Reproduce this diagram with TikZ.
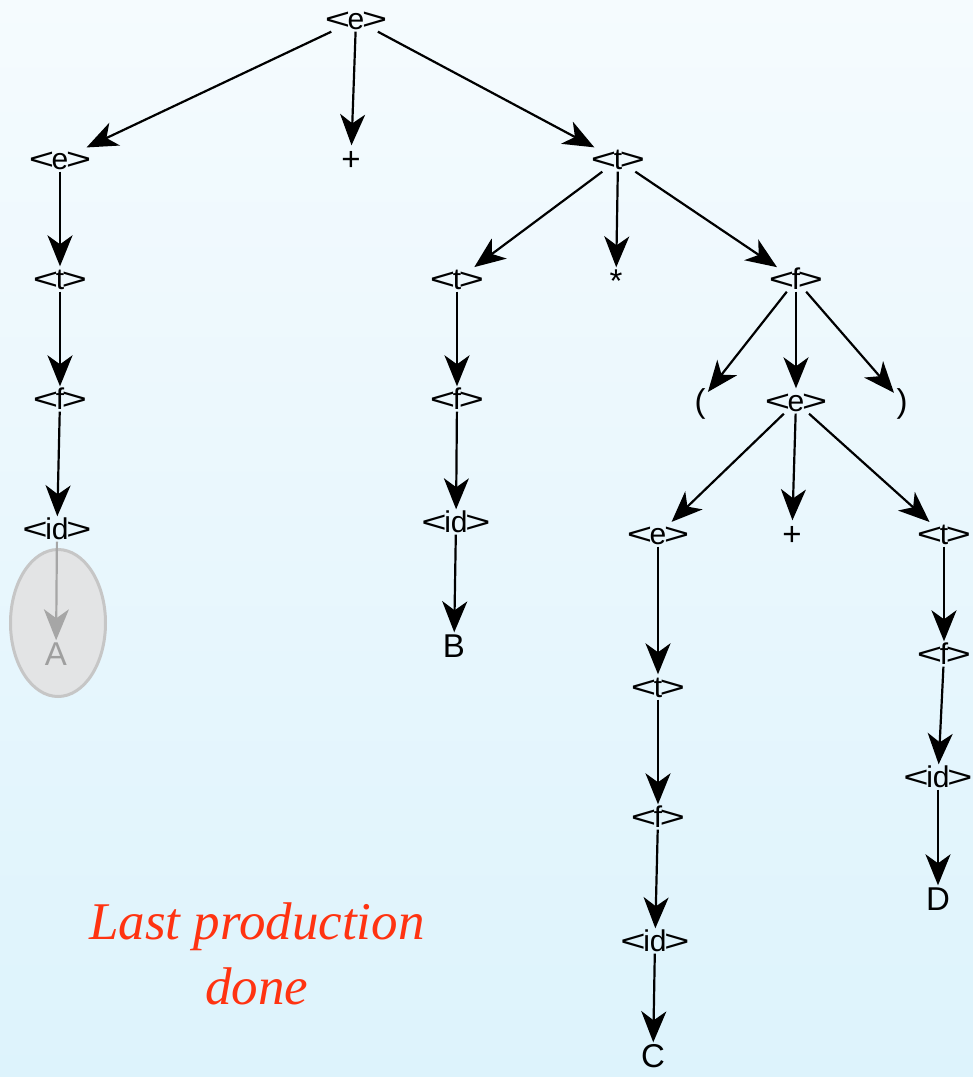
\documentclass[tikz,border=0pt]{standalone}
\usepackage{fontspec}
\usepackage{graphicx}
\setmainfont{Liberation Sans}
\newfontfamily\serifit{Liberation Serif}
\usetikzlibrary{arrows.meta,shapes.geometric}
\definecolor{bgtop}{RGB}{245,251,254}
\definecolor{bgbot}{RGB}{221,243,252}
\definecolor{redtxt}{RGB}{255,51,17}
\newcommand{\ntm}[1]{\scalebox{1.45}[1]{<}\kern-2.5pt#1\kern-2.5pt\scalebox{1.45}[1]{>}}
\tikzset{
  nt/.style={inner sep=1pt, font=\fontsize{30}{32}\selectfont, text height=20pt, text depth=1pt},
  tm/.style={inner sep=1pt, font=\fontsize{33}{35}\selectfont, text height=22pt, text depth=1pt},
  edge/.style={line width=2.2pt, -{Stealth[length=31pt,width=25pt,inset=9pt]}, shorten >=2pt},
  gedge/.style={edge, draw=gray!70},
}
\begin{document}
\begin{tikzpicture}[x=1pt,y=-1pt]
\useasboundingbox (0,0) rectangle (973,1077);
\shade[top color=bgtop, bottom color=bgbot] (0,0) rectangle (973,1077);
% ellipse
\node[ellipse, minimum width=95pt, minimum height=147pt, fill=gray!22, draw=gray!45, line width=3pt, fill opacity=0.9] (ell) at (58,623) {};
% nodes
\node[nt] (r) at (356,20) {\ntm{e}};
\node[nt] (e1) at (60,160) {\ntm{e}};
\node[tm] (p1) at (351,160) {+};
\node[nt] (t1) at (618,160) {\ntm{t}};
\node[nt] (t2) at (60,280) {\ntm{t}};
\node[nt] (f2) at (60,400) {\ntm{f}};
\node[nt] (id2) at (57,530) {\ntm{id}};
\node[tm, text=gray!75] (A) at (56,655) {A};
\node[nt] (t3) at (457,280) {\ntm{t}};
\node[tm] (st) at (616,282) {*};
\node[nt] (f3) at (796,280) {\ntm{f}};
\node[nt] (f4) at (457,400) {\ntm{f}};
\node[nt] (id4) at (456,523) {\ntm{id}};
\node[tm] (B) at (454,647) {B};
\node[tm] (lp) at (700,402) {(};
\node[nt] (e5) at (796,402) {\ntm{e}};
\node[tm] (rp) at (902,402) {)};
\node[nt] (e6) at (658,535) {\ntm{e}};
\node[tm] (p6) at (792,535) {+};
\node[nt] (t6) at (944,535) {\ntm{t}};
\node[nt] (t7) at (658,688) {\ntm{t}};
\node[nt] (f7) at (658,818) {\ntm{f}};
\node[nt] (id7) at (655,942) {\ntm{id}};
\node[tm] (C) at (653,1057) {C};
\node[nt] (f8) at (944,655) {\ntm{f}};
\node[nt] (id8) at (938,778) {\ntm{id}};
\node[tm] (D) at (938,900) {D};
% edges
\draw[edge] (r) -- (e1);
\draw[edge] (r) -- (p1);
\draw[edge] (r) -- (t1);
\draw[edge] (e1) -- (t2);
\draw[edge] (t2) -- (f2);
\draw[edge] (f2) -- (id2);
\draw[gedge] (id2) -- (A);
\draw[edge] (t1) -- (t3);
\draw[edge] (t1) -- (st);
\draw[edge] (t1) -- (f3);
\draw[edge] (t3) -- (f4);
\draw[edge] (f4) -- (id4);
\draw[edge] (id4) -- (B);
\draw[edge] (f3) -- (lp);
\draw[edge] (f3) -- (e5);
\draw[edge] (f3) -- (rp);
\draw[edge] (e5) -- (e6);
\draw[edge] (e5) -- (p6);
\draw[edge] (e5) -- (t6);
\draw[edge] (e6) -- (t7);
\draw[edge] (t7) -- (f7);
\draw[edge] (f7) -- (id7);
\draw[edge] (id7) -- (C);
\draw[edge] (t6) -- (f8);
\draw[edge] (f8) -- (id8);
\draw[edge] (id8) -- (D);
% caption
\node[text=redtxt, font=\serifit\itshape\fontsize{53}{65}\selectfont, align=center] (cap) at (257,954) {Last production\\done};
\end{tikzpicture}
\end{document}
